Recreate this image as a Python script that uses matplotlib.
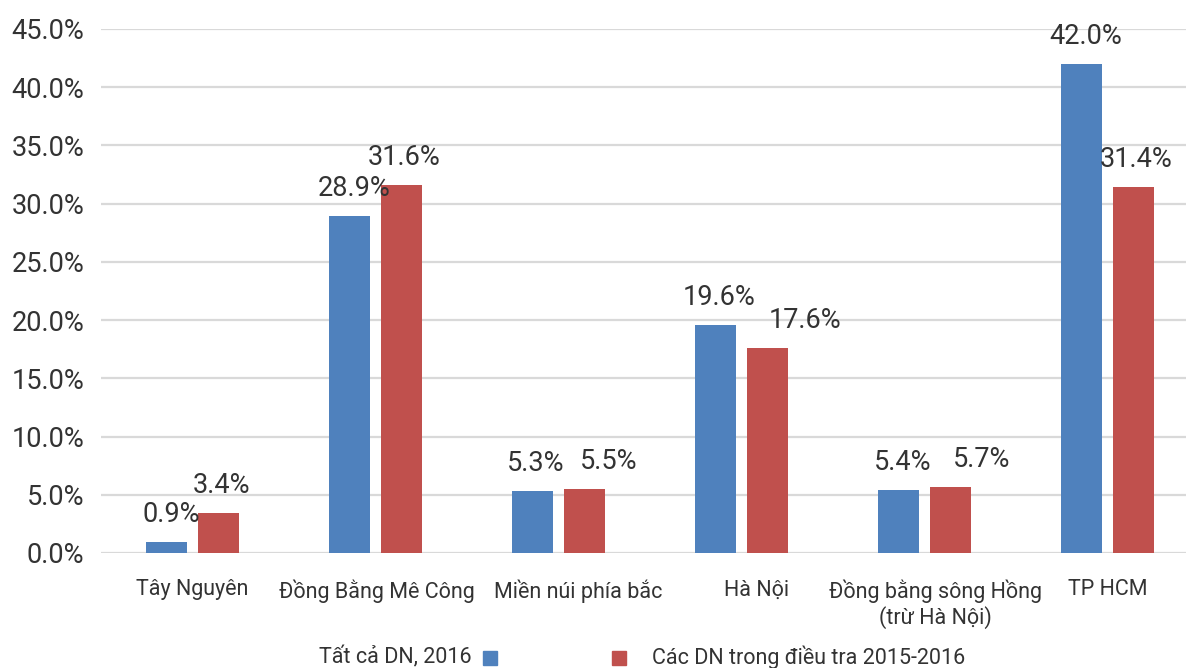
import matplotlib.pyplot as plt
import matplotlib.patches as mpatches
import matplotlib.transforms as mtransforms
import numpy as np

plt.rcParams['font.family'] = ['Roboto', 'DejaVu Sans']

# ---------- Data ----------
regions = ["Tây Nguyên", "Đồng Bằng Mê Công", "Miền núi phía bắc", "Hà Nội",
           "Đồng bằng sông Hồng\n(trừ Hà Nội)", "TP HCM"]
all_dn_2016 = [0.9, 28.9, 5.3, 19.6, 5.4, 42.0]      # Tất cả DN, 2016
survey_dn = [3.4, 31.6, 5.5, 17.6, 5.7, 31.4]        # Các DN trong điều tra 2015-2016
series_names = ["Tất cả DN, 2016", "Các DN trong điều tra 2015-2016"]
y_ticks = np.arange(0, 50, 5)

# label nudges (pixels) for the value labels and the category labels
blue_dx = [5, 5, 3.5, 4, 4, 4.5]
red_dx = [3, 3, 24.5, 37, 31.5, 2.5]
cat_dx = [0, 1, 20, 15, 11, 0]

blue = '#4F81BD'
red = '#C0504D'
text_col = '#333333'

# ---------- Plot ----------
fig = plt.figure(figsize=(11.86, 6.68), dpi=100)
ax = fig.add_axes([0.0852, 0.1722, 0.9258, 0.7844])

x = np.arange(len(regions))
w = 0.224
off = 0.142
b1 = ax.bar(x - off, all_dn_2016, w, color=blue, zorder=3)
b2 = ax.bar(x + off, survey_dn, w, color=red, zorder=3)

for bars, vals, dxs in [(b1, all_dn_2016, blue_dx), (b2, survey_dn, red_dx)]:
    for b, v, dx in zip(bars, vals, dxs):
        ax.annotate("%.1f%%" % v, (b.get_x() + b.get_width() / 2, v),
                    xytext=(dx, 20), textcoords='offset pixels',
                    ha='center', va='baseline', fontsize=19.5, color=text_col)

ax.set_xlim(-0.5, 5.5)
ax.set_ylim(0, 45)
ax.set_yticks(y_ticks)
ax.set_yticklabels(["%.1f%%" % t for t in y_ticks])
ax.set_xticks(x)
ax.set_xticklabels(regions, linespacing=1.15)
ax.tick_params(axis='y', length=0, pad=12, labelsize=19.5, labelcolor=text_col)
ax.tick_params(axis='x', length=0, pad=19, labelsize=15.5, labelcolor=text_col)
ax.grid(axis='y', color='#d9d9d9', linewidth=1.6, zorder=0)
for s in ax.spines.values():
    s.set_visible(False)

# shift some category labels sideways
for lbl, dx in zip(ax.get_xticklabels(), cat_dx):
    lbl.set_transform(lbl.get_transform() +
                      mtransforms.ScaledTranslation(dx / 100, 0, fig.dpi_scale_trans))

# ---------- Legend ----------
fig.text(472 / 1186, 1 - 657 / 668, series_names[0], ha='right', va='center',
         fontsize=15.5, color=text_col)
fig.patches.append(mpatches.Rectangle((483 / 1186, 1 - 665 / 668), 14 / 1186, 14 / 668,
                                      color=blue, transform=fig.transFigure, figure=fig))
fig.patches.append(mpatches.Rectangle((612 / 1186, 1 - 665 / 668), 14 / 1186, 14 / 668,
                                      color=red, transform=fig.transFigure, figure=fig))
fig.text(652 / 1186, 1 - 657 / 668, series_names[1], ha='left', va='center',
         fontsize=15.5, color=text_col)

fig.savefig("out.png", dpi=100)
